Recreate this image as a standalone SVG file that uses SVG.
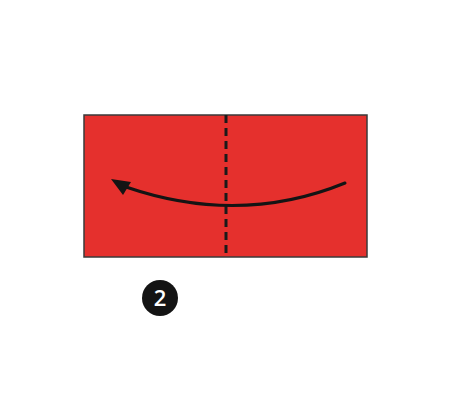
<svg xmlns="http://www.w3.org/2000/svg" width="469" height="404" viewBox="0 0 469 404">
<style>
.paper{fill:#E5302D;stroke:#3a3a3a;stroke-width:1.5}
.fold{stroke:#1a1a1a;stroke-width:3;stroke-dasharray:8,5;fill:none}
.arc{stroke:#141414;stroke-width:3;fill:none;stroke-linecap:round}
.badge{fill:#141414}
.num{fill:#fff;font-family:"Open Sans","DejaVu Sans",sans-serif;font-size:22px;font-weight:600}
</style>
<rect width="469" height="404" fill="#fff"/>
<g id="paper">
<rect class="paper" x="84" y="115" width="283" height="142"/>
<line class="fold" x1="226" y1="115" x2="226" y2="257"/>
</g>
<g id="connectors">
<path class="arc" d="M345,183 Q240,226 126,187"/>
<polygon points="111,179 131,182 123,195" fill="#141414"/>
</g>
<g id="step">
<circle class="badge" cx="160" cy="298" r="18"/>
<text class="num" x="160" y="306" text-anchor="middle">2</text>
</g>
</svg>
